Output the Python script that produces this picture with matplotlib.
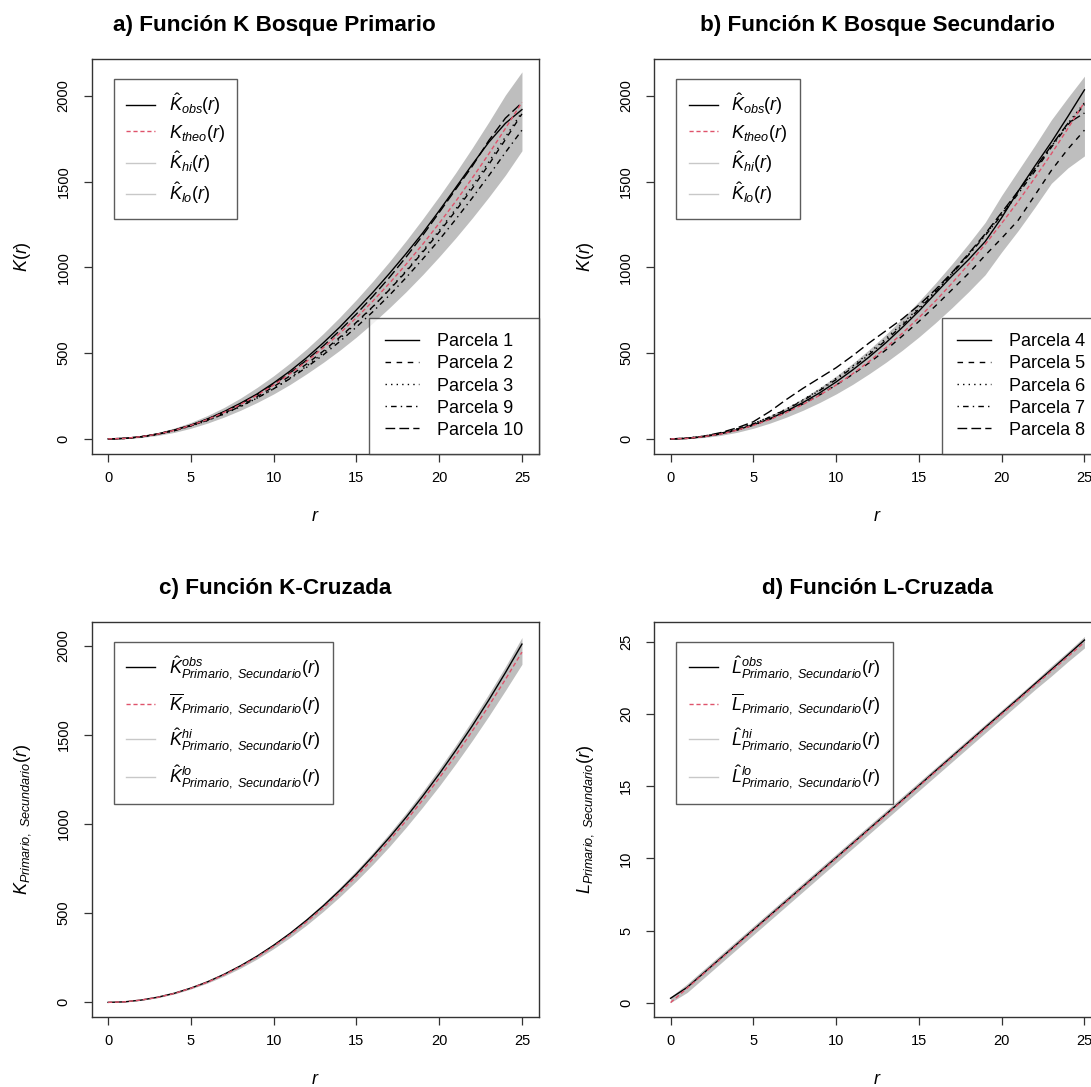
import matplotlib
matplotlib.use("Agg")
import matplotlib.pyplot as plt
from matplotlib.lines import Line2D

plt.rcParams['font.family'] = ['Liberation Sans', 'DejaVu Sans']
plt.rcParams['mathtext.fontset'] = 'custom'
plt.rcParams['mathtext.rm'] = 'Liberation Sans'
plt.rcParams['mathtext.it'] = 'Liberation Sans:italic'
plt.rcParams['mathtext.bf'] = 'Liberation Sans:bold'

# ---------------- data ----------------
r = [0, 1, 2, 3, 4, 5, 6, 7, 8, 9, 10, 11, 12, 13, 14, 15, 16, 17, 18, 19, 20, 21, 22, 23, 24, 25]
k_theo = [0, 3, 13, 28, 50, 79, 113, 154, 201, 254, 314, 380, 452, 531, 616, 707, 804, 908, 1018, 1134,
          1257, 1385, 1521, 1662, 1810, 1963]

# panel a  (Bosque Primario)
a_hi = [0, 6, 18, 37, 63, 96, 136, 183, 238, 300, 368, 443, 525, 614, 710, 812, 920, 1034, 1155, 1282,
        1414, 1552, 1697, 1848, 2005, 2140]
a_lo = [0, 1, 8, 20, 38, 62, 92, 127, 167, 212, 262, 318, 380, 446, 517, 594, 677, 765, 858, 957,
        1062, 1172, 1288, 1410, 1538, 1680]
a_p1 = [0, 3, 13, 29, 52, 80, 116, 159, 208, 262, 326, 396, 474, 560, 652, 752, 855, 965, 1080, 1200,
        1330, 1465, 1600, 1730, 1840, 1920]
a_p2 = [0, 3, 12, 27, 49, 77, 110, 150, 196, 247, 304, 368, 437, 512, 593, 680, 772, 870, 975, 1088,
        1205, 1330, 1460, 1600, 1745, 1895]
a_p3 = [0, 3, 12, 27, 48, 75, 107, 145, 188, 238, 292, 355, 425, 502, 585, 675, 770, 873, 980, 1095,
        1215, 1340, 1475, 1615, 1760, 1905]
a_p9 = [0, 3, 12, 27, 48, 76, 108, 146, 190, 238, 292, 352, 418, 490, 568, 652, 742, 838, 940, 1048,
        1160, 1280, 1405, 1535, 1670, 1800]
a_p10 = [0, 3, 13, 29, 51, 80, 115, 157, 205, 258, 318, 385, 460, 542, 632, 728, 832, 942, 1060, 1186,
         1320, 1455, 1590, 1740, 1870, 1960]

# panel b  (Bosque Secundario)
b_hi = [0, 6, 18, 37, 63, 96, 136, 183, 237, 298, 366, 440, 521, 608, 702, 802, 908, 1020, 1138, 1262,
        1420, 1565, 1710, 1860, 1990, 2115]
b_lo = [0, 1, 8, 20, 38, 62, 92, 127, 167, 212, 262, 318, 380, 446, 517, 594, 677, 765, 858, 957,
        1090, 1215, 1350, 1490, 1580, 1650]
b_p4 = [0, 3, 13, 29, 52, 82, 118, 162, 212, 268, 332, 402, 478, 560, 650, 745, 848, 950, 1045, 1150,
        1290, 1445, 1590, 1730, 1880, 2035]
b_p5 = [0, 3, 13, 29, 51, 80, 115, 157, 204, 256, 314, 376, 444, 518, 600, 685, 775, 870, 965, 1070,
        1170, 1275, 1420, 1565, 1690, 1800]
b_p6 = [0, 4, 15, 33, 58, 90, 129, 175, 228, 288, 354, 425, 502, 585, 672, 765, 862, 965, 1075, 1190,
        1310, 1440, 1570, 1705, 1840, 1960]
b_p7 = [0, 4, 15, 32, 57, 88, 127, 172, 224, 282, 346, 416, 492, 574, 662, 756, 856, 962, 1072, 1185,
        1305, 1430, 1560, 1700, 1830, 1950]
b_p8 = [0, 4, 16, 36, 64, 100, 160, 230, 295, 355, 415, 485, 560, 630, 700, 780, 870, 970, 1080, 1195,
        1320, 1445, 1575, 1710, 1840, 1900]

# panel c  (K cruzada)
c_obs = [0, 3, 13, 29, 51, 80, 115, 157, 205, 259, 320, 387, 461, 541, 628, 720, 820, 925, 1037, 1155,
         1280, 1412, 1550, 1695, 1848, 2008]
c_hi = [0, 4, 14, 30, 53, 83, 119, 162, 211, 266, 328, 397, 472, 555, 644, 739, 840, 948, 1062, 1182,
        1309, 1442, 1582, 1729, 1882, 2045]
c_lo = [0, 2, 11, 26, 47, 75, 108, 147, 192, 243, 301, 364, 434, 510, 592, 680, 774, 874, 981, 1094,
        1212, 1337, 1468, 1605, 1748, 1895]

# panel d  (L cruzada)
l_theo = [0, 1, 2, 3, 4, 5, 6, 7, 8, 9, 10, 11, 12, 13, 14, 15, 16, 17, 18, 19, 20, 21, 22, 23, 24, 25]
d_obs = [0.3, 1.05, 2.05, 3.05, 4.05, 5.05, 6.05, 7.05, 8.05, 9.05, 10.05, 11.05, 12.05, 13.05, 14.05,
         15.05, 16.07, 17.07, 18.07, 19.08, 20.08, 21.08, 22.1, 23.1, 24.12, 25.15]
d_hi = [0.4, 1.3, 2.3, 3.3, 4.3, 5.3, 6.3, 7.3, 8.3, 9.3, 10.3, 11.3, 12.3, 13.3, 14.3, 15.3, 16.3,
        17.3, 18.3, 19.3, 20.3, 21.3, 22.3, 23.35, 24.35, 25.4]
d_lo = [0.0, 0.7, 1.7, 2.7, 3.7, 4.7, 5.7, 6.7, 7.7, 8.7, 9.7, 10.7, 11.7, 12.7, 13.7, 14.7, 15.7,
        16.7, 17.7, 18.7, 19.7, 20.7, 21.7, 22.65, 23.65, 24.6]

titles = ["a) Función K Bosque Primario", "b) Función K Bosque Secundario",
          "c) Función K-Cruzada", "d) Función L-Cruzada"]
xticks = [0, 5, 10, 15, 20, 25]
kticks = [0, 500, 1000, 1500, 2000]
lticks = [0, 5, 10, 15, 20, 25]

# ---------------- styles ----------------
RED = '#DF536B'
BAND = '#BEBEBE'
HILO = '#C8C8C8'
BOX = '#333333'
LS = {'solid': '-', 'dash': (0, (4, 4)), 'dot': (0, (1, 3)), 'dotdash': (0, (1, 3, 4, 3)),
      'longdash': (0, (7, 3))}
plot_ls = [LS['solid'], LS['dash'], LS['dot'], LS['dotdash'], LS['longdash']]

W, H = 1091, 1087
fig = plt.figure(figsize=(W / 100, H / 100), dpi=100)


def make_ax(left, top, right, bottom):
    return fig.add_axes([left / W, 1 - bottom / H, (right - left) / W, (bottom - top) / H])


ax_a = make_ax(91.5, 59, 538.5, 454)
ax_b = make_ax(654, 59, 1101, 454)
ax_c = make_ax(91.5, 622, 538.5, 1017)
ax_d = make_ax(654, 622, 1101, 1017)


def style(ax, title, yticks, ylabel, tx=0.5):
    ax.set_xlim(-1, 26)
    ax.set_xticks(xticks)
    ax.set_yticks(yticks)
    ax.tick_params(direction='out', length=6, width=0.9, colors=BOX, labelcolor='black',
                   labelsize=10.5)
    ax.tick_params(axis='x', pad=6)
    ax.tick_params(axis='y', pad=9)
    for lab in ax.get_yticklabels():
        lab.set_rotation(90)
        lab.set_va('center')
    for s in ax.spines.values():
        s.set_color(BOX)
        s.set_linewidth(1.0)
    ax.set_title(title, fontsize=16.2, fontweight='bold', pad=20, x=tx)
    ax.set_xlabel(r'$r$', fontsize=13, labelpad=17)
    ax.set_ylabel(ylabel, fontsize=13, labelpad=17)


def env_legend(ax, labels, spacing):
    h = [Line2D([], [], color='black', lw=1.0),
         Line2D([], [], color=RED, lw=1.0, ls=(0, (3, 2))),
         Line2D([], [], color=HILO, lw=1.0),
         Line2D([], [], color=HILO, lw=1.0)]
    leg = ax.legend(h, labels, loc='upper left', bbox_to_anchor=(0.05, 0.95), borderaxespad=0,
                    fontsize=13, frameon=True, fancybox=False, handlelength=1.6,
                    labelspacing=spacing, borderpad=0.7, handletextpad=0.75)
    leg.get_frame().set_edgecolor(BOX)
    leg.get_frame().set_linewidth(1.0)
    return leg


def plot_legend(ax, names):
    h = [Line2D([], [], color='black', lw=1.0, ls=s) for s in plot_ls]
    leg = ax.legend(h, names, loc='lower right', bbox_to_anchor=(1.0, 0.0), borderaxespad=0,
                    fontsize=13, frameon=True, fancybox=False, handlelength=1.9,
                    labelspacing=0.28, borderpad=0.85, handletextpad=1.0)
    leg.get_frame().set_edgecolor(BOX)
    leg.get_frame().set_linewidth(1.0)
    return leg


k_labels = [r'$\hat{K}_{obs}(r)$', r'$K_{theo}(r)$', r'$\hat{K}_{hi}(r)$', r'$\hat{K}_{lo}(r)$']
LEFT_TITLE_X = 0.41

# panel a
ax = ax_a
ax.fill_between(r, a_lo, a_hi, color=BAND, lw=0)
for ys, s in zip([a_p1, a_p2, a_p3, a_p9, a_p10], plot_ls):
    ax.plot(r, ys, color='black', lw=1.0, ls=s)
ax.plot(r, k_theo, color=RED, lw=1.0, ls=(0, (3, 2)))
ax.set_ylim(-88, 2215)
style(ax, titles[0], kticks, r'$K(r)$', LEFT_TITLE_X)
l1 = env_legend(ax, k_labels, 0.31)
ax.add_artist(l1)
plot_legend(ax, ['Parcela 1', 'Parcela 2', 'Parcela 3', 'Parcela 9', 'Parcela 10'])

# panel b
ax = ax_b
ax.fill_between(r, b_lo, b_hi, color=BAND, lw=0)
for ys, s in zip([b_p4, b_p5, b_p6, b_p7, b_p8], plot_ls):
    ax.plot(r, ys, color='black', lw=1.0, ls=s)
ax.plot(r, k_theo, color=RED, lw=1.0, ls=(0, (3, 2)))
ax.set_ylim(-88, 2215)
style(ax, titles[1], kticks, r'$K(r)$')
l2 = env_legend(ax, k_labels, 0.31)
ax.add_artist(l2)
plot_legend(ax, ['Parcela 4', 'Parcela 5', 'Parcela 6', 'Parcela 7', 'Parcela 8'])

# panel c
ax = ax_c
ax.fill_between(r, c_lo, c_hi, color=BAND, lw=0)
ax.plot(r, c_obs, color='black', lw=1.0)
ax.plot(r, k_theo, color=RED, lw=1.0, ls=(0, (3, 2)))
ax.set_ylim(-82, 2132)
style(ax, titles[2], kticks, r'$K_{Primario,\ Secundario}(r)$', LEFT_TITLE_X)
env_legend(ax, [r'$\hat{K}^{obs}_{Primario,\ Secundario}(r)$',
                r'$\overline{K}_{Primario,\ Secundario}(r)$',
                r'$\hat{K}^{hi}_{Primario,\ Secundario}(r)$',
                r'$\hat{K}^{lo}_{Primario,\ Secundario}(r)$'], 0.53)

# panel d
ax = ax_d
ax.fill_between(r, d_lo, d_hi, color=BAND, lw=0)
ax.plot(r, d_obs, color='black', lw=1.0)
ax.plot(r, l_theo, color=RED, lw=1.0, ls=(0, (3, 2)))
ax.set_ylim(-1.0, 26.4)
style(ax, titles[3], lticks, r'$L_{Primario,\ Secundario}(r)$')
env_legend(ax, [r'$\hat{L}^{obs}_{Primario,\ Secundario}(r)$',
                r'$\overline{L}_{Primario,\ Secundario}(r)$',
                r'$\hat{L}^{hi}_{Primario,\ Secundario}(r)$',
                r'$\hat{L}^{lo}_{Primario,\ Secundario}(r)$'], 0.53)

fig.savefig('out.png', dpi=100)
